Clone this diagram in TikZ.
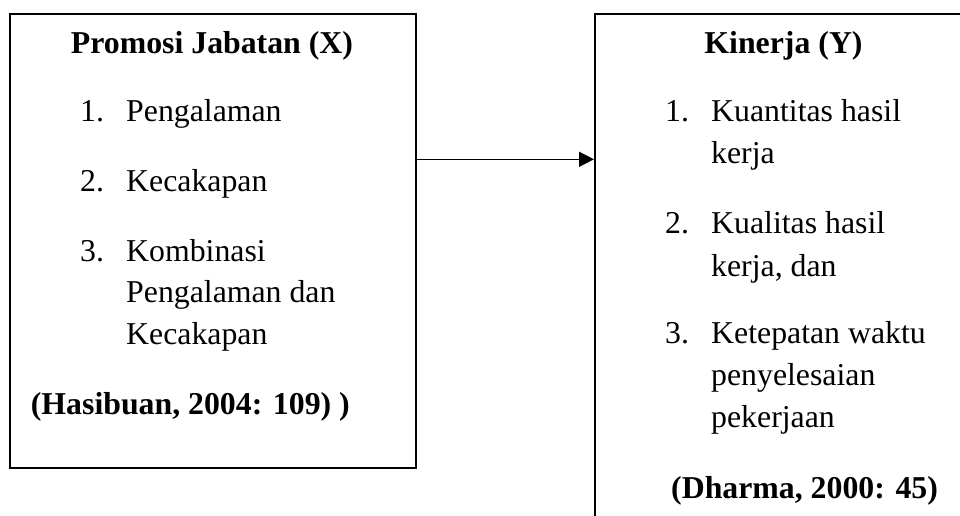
\documentclass[tikz,border=0pt]{standalone}
\usepackage{fontspec}
\setmainfont{Liberation Serif}
\usetikzlibrary{arrows.meta}
\tikzset{
  box/.style={draw, line width=2pt, rectangle, inner sep=0pt},
  txt/.style={anchor=base west, inner sep=0pt, font=\fontsize{31.8}{38}\selectfont},
  btxt/.style={txt, font=\fontsize{31.8}{38}\selectfont\bfseries},
  conn/.style={line width=1.5pt, -{Triangle[length=15pt,width=15pt]}}
}
\begin{document}
\begin{tikzpicture}[x=1pt,y=-1pt]
\useasboundingbox (0,0) rectangle (960,515);
\clip (0,0) rectangle (960,515);
% boxes
\node[box, minimum width=406pt, minimum height=454.3pt, anchor=north west] (lbox) at (9,12.7) {};
\node[box, minimum width=420pt, minimum height=560pt, anchor=north west] (rbox) at (594,12.7) {};
% arrow
\coordinate (arrowy) at (0,159.3);
\draw[conn] (lbox.east |- arrowy) -- (rbox.west |- arrowy);
% left box texts
\node[btxt, anchor=base] (ltitle) at (212,53.3) {Promosi Jabatan (X)};
\node[txt] (ln1) at (80,121.7) {1.};
\node[txt] (lt1) at (126,121.7) {Pengalaman};
\node[txt] (ln2) at (80,191.7) {2.};
\node[txt] (lt2) at (126,191.7) {Kecakapan};
\node[txt] (ln3) at (80,261) {3.};
\node[txt] (lt3a) at (126,261) {Kombinasi};
\node[txt] (lt3b) at (126,302) {Pengalaman dan};
\node[txt] (lt3c) at (126,344) {Kecakapan};
\node[btxt] (lcite) at (30.7,414.3) {(Hasibuan, 2004: 109) )};
% right box texts
\node[btxt, anchor=base] (rtitle) at (783.5,53.3) {Kinerja (Y)};
\node[txt] (rn1) at (665,121.7) {1.};
\node[txt] (rt1a) at (711,121.7) {Kuantitas hasil};
\node[txt] (rt1b) at (711,163.3) {kerja};
\node[txt] (rn2) at (665,233.3) {2.};
\node[txt] (rt2a) at (711,233.3) {Kualitas hasil};
\node[txt] (rt2b) at (711,276.7) {kerja, dan};
\node[txt] (rn3) at (665,343.3) {3.};
\node[txt] (rt3a) at (711,343.3) {Ketepatan waktu};
\node[txt] (rt3b) at (711,385) {penyelesaian};
\node[txt] (rt3c) at (711,427) {pekerjaan};
\node[btxt] (rcite) at (671,498.3) {(Dharma, 2000: 45)};
\end{tikzpicture}
\end{document}
